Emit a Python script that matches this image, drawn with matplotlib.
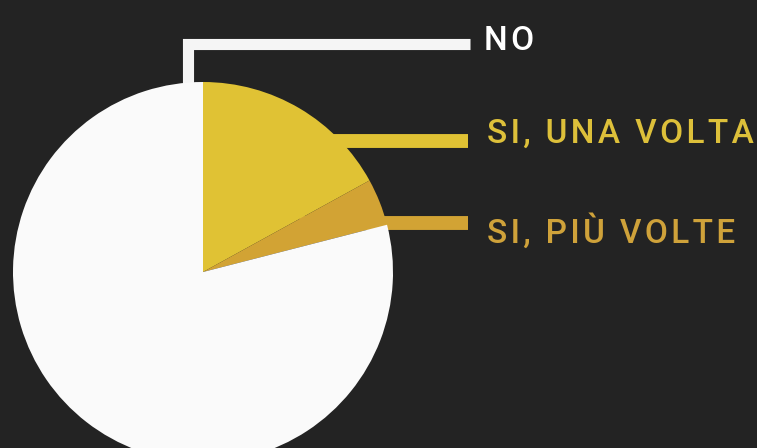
import matplotlib.pyplot as plt

# Data
labels = ['SI, UNA VOLTA', 'SI, PIÙ VOLTE', 'NO']
values = [17, 4, 79]
colors = ['#E0C234', '#D2A334', '#FAFAFA']
text_colors = ['#DDC03A', '#CFA23A', '#FFFFFF']

bg = '#232323'
W, H = 757, 448

fig = plt.figure(figsize=(W / 100, H / 100), dpi=100, facecolor=bg)
ax = fig.add_axes([0, 0, 1, 1])
ax.set_facecolor(bg)

# pie, centre in pixel coords (y measured from top)
cx, cy, r = 203, 272, 190
ax.pie(values, colors=colors, startangle=90, counterclock=False,
       center=(cx, H - cy), radius=r,
       wedgeprops=dict(linewidth=0, zorder=3))

# leader lines
ax.plot([188, 188, 470], [H - 120, H - 44, H - 44], color='#F5F5F5',
        lw=8, solid_capstyle='butt', solid_joinstyle='miter', zorder=1)
ax.plot([300, 468], [H - 141, H - 141], color=colors[0], lw=10,
        solid_capstyle='butt', zorder=1)
ax.plot([300, 468], [H - 223, H - 223], color=colors[1], lw=10,
        solid_capstyle='butt', zorder=1)


def spaced(s):
    # a little letter spacing, as in the original
    return '\u200a'.join(s)


# labels
font = dict(family=['Roboto', 'DejaVu Sans'], fontsize=24, fontweight='medium')
ax.text(484, H - 41, spaced('NO'), color=text_colors[2], va='center', ha='left', **font)
ax.text(487, H - 134, spaced(labels[0]), color=text_colors[0],
        va='center', ha='left', **font)
ax.text(487, H - 232, spaced(labels[1]), color=text_colors[1],
        va='center', ha='left', **font)

ax.set_xlim(0, W)
ax.set_ylim(0, H)
ax.set_aspect('auto')
ax.axis('off')

fig.savefig('out.png', dpi=100, facecolor=bg)
